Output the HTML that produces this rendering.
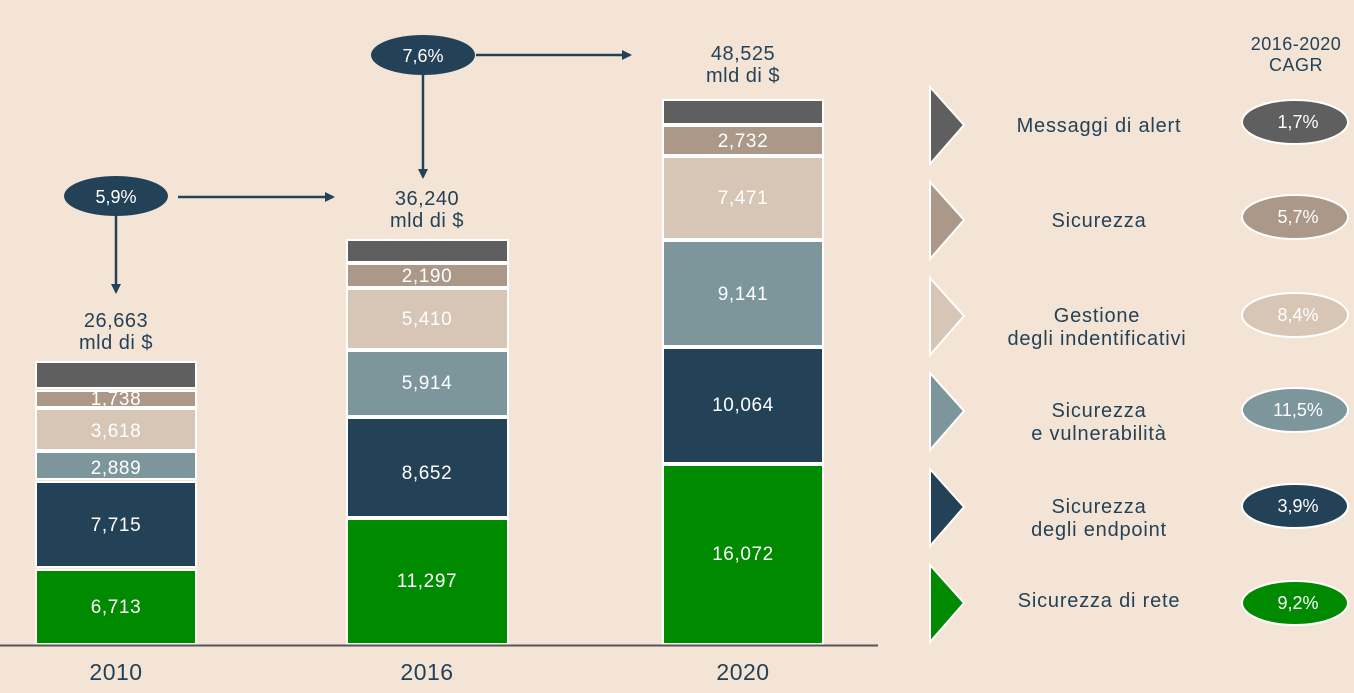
<!DOCTYPE html>
<html><head><style>body{margin:0;background:#f4e4d6}svg{display:block}text{font-family:"Liberation Sans",sans-serif}</style></head><body>
<svg width="1354" height="693" viewBox="0 0 1354 693" xmlns="http://www.w3.org/2000/svg">
<defs><marker id="ah" markerUnits="userSpaceOnUse" markerWidth="10" markerHeight="10" refX="8" refY="5" orient="auto"><path d="M0,0 L10,5 L0,10 z" fill="#244257"/></marker></defs>
<rect width="1354" height="693" fill="#f4e4d6"/>
<g stroke="#fff" stroke-width="2">
<rect x="36" y="362" width="160" height="26" fill="#5f5f5f"/>
<rect x="36" y="391" width="160" height="16" fill="#ab9888"/>
<rect x="36" y="409" width="160" height="41" fill="#d7c5b5"/>
<rect x="36" y="452" width="160" height="27" fill="#7c969b"/>
<rect x="36" y="482" width="160" height="85" fill="#244257"/>
<rect x="36" y="570" width="160" height="74" fill="#008a00"/>
<rect x="347" y="240" width="161" height="22" fill="#5f5f5f"/>
<rect x="347" y="264" width="161" height="23" fill="#ab9888"/>
<rect x="347" y="289" width="161" height="60" fill="#d7c5b5"/>
<rect x="347" y="351" width="161" height="65" fill="#7c969b"/>
<rect x="347" y="418" width="161" height="99" fill="#244257"/>
<rect x="347" y="519" width="161" height="125" fill="#008a00"/>
<rect x="663" y="100" width="160" height="24" fill="#5f5f5f"/>
<rect x="663" y="126" width="160" height="29" fill="#ab9888"/>
<rect x="663" y="157" width="160" height="82" fill="#d7c5b5"/>
<rect x="663" y="241" width="160" height="105" fill="#7c969b"/>
<rect x="663" y="348" width="160" height="115" fill="#244257"/>
<rect x="663" y="465" width="160" height="179" fill="#008a00"/>
</g>
<line x1="0" y1="645.5" x2="878" y2="645.5" stroke="#555" stroke-width="2"/>
<g fill="#fff" font-size="19" text-anchor="middle" letter-spacing="0.6">
<text x="116" y="405">1,738</text><text x="116" y="437">3,618</text><text x="116" y="474">2,889</text><text x="116" y="531">7,715</text><text x="116" y="613">6,713</text>
<text x="427" y="282">2,190</text><text x="427" y="325">5,410</text><text x="427" y="389">5,914</text><text x="427" y="479">8,652</text><text x="427" y="587">11,297</text>
<text x="743" y="147">2,732</text><text x="743" y="204">7,471</text><text x="743" y="300">9,141</text><text x="743" y="411">10,064</text><text x="743" y="560">16,072</text>
</g>
<g fill="#244257" font-size="20" text-anchor="middle" letter-spacing="0.5">
<text x="116" y="327">26,663</text><text x="116" y="349">mld di $</text>
<text x="427" y="205">36,240</text><text x="427" y="227">mld di $</text>
<text x="743" y="60">48,525</text><text x="743" y="82">mld di $</text>
<text x="116" y="680" font-size="23">2010</text><text x="427" y="680" font-size="23">2016</text><text x="743" y="680" font-size="23">2020</text>
<text x="1296" y="50" font-size="18">2016-2020</text><text x="1296" y="71" font-size="18">CAGR</text>
</g>
<g stroke="#244257" stroke-width="2.5" fill="none" marker-end="url(#ah)">
<line x1="178" y1="197" x2="333" y2="197"/><line x1="116" y1="215" x2="116" y2="292"/>
<line x1="476" y1="55" x2="630" y2="55"/><line x1="423" y1="75" x2="423" y2="177"/>
</g>
<ellipse cx="116" cy="196" rx="52" ry="20" fill="#244257"/><text x="116" y="203" fill="#fff" font-size="18" text-anchor="middle">5,9%</text>
<ellipse cx="423" cy="55" rx="52" ry="20" fill="#244257"/><text x="423" y="62" fill="#fff" font-size="18" text-anchor="middle">7,6%</text>
<g stroke="#fff" stroke-width="2">
<path d="M930,87 L964,125 L930,164 z" fill="#5f5f5f"/>
<path d="M930,182 L964,220 L930,259 z" fill="#ab9888"/>
<path d="M930,278 L964,316 L930,355 z" fill="#d7c5b5"/>
<path d="M930,373 L964,411 L930,450 z" fill="#7c969b"/>
<path d="M930,469 L964,507 L930,546 z" fill="#244257"/>
<path d="M930,565 L964,603 L930,642 z" fill="#008a00"/>
<ellipse cx="1295" cy="122" rx="53" ry="22" fill="#5f5f5f"/>
<ellipse cx="1295" cy="217" rx="53" ry="22" fill="#ab9888"/>
<ellipse cx="1295" cy="315" rx="53" ry="22" fill="#d7c5b5"/>
<ellipse cx="1295" cy="410" rx="53" ry="22" fill="#7c969b"/>
<ellipse cx="1295" cy="506" rx="53" ry="22" fill="#244257"/>
<ellipse cx="1295" cy="603" rx="53" ry="22" fill="#008a00"/>
</g>
<g fill="#fff" font-size="18" text-anchor="middle">
<text x="1298" y="128">1,7%</text><text x="1298" y="223">5,7%</text><text x="1298" y="321">8,4%</text><text x="1298" y="416">11,5%</text><text x="1298" y="512">3,9%</text><text x="1298" y="609">9,2%</text>
</g>
<g fill="#244257" font-size="20" text-anchor="middle" letter-spacing="0.8">
<text x="1099" y="132">Messaggi di alert</text>
<text x="1099" y="227">Sicurezza</text>
<text x="1097" y="322">Gestione</text><text x="1097" y="345">degli indentificativi</text>
<text x="1099" y="417">Sicurezza</text><text x="1099" y="440">e vulnerabilità</text>
<text x="1099" y="513">Sicurezza</text><text x="1099" y="536">degli endpoint</text>
<text x="1099" y="607">Sicurezza di rete</text>
</g>
</svg>
</body></html>
